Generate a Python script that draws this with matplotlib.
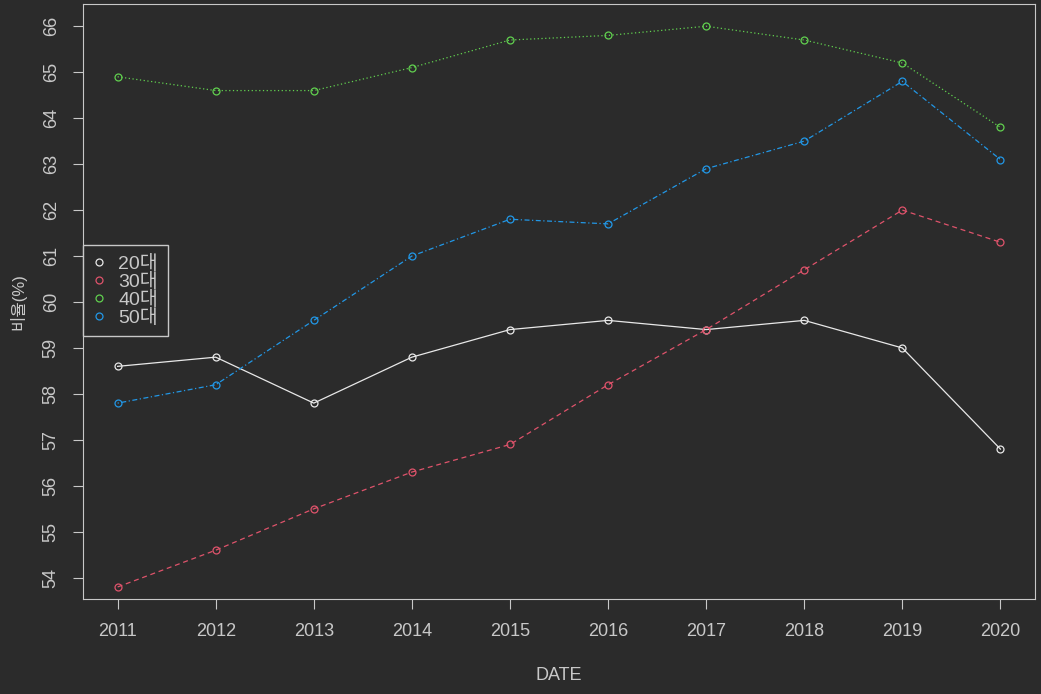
import matplotlib
matplotlib.use("Agg")
import matplotlib.pyplot as plt

plt.rcParams['font.family'] = ['Liberation Sans', 'Noto Sans CJK KR']

years = [2011, 2012, 2013, 2014, 2015, 2016, 2017, 2018, 2019, 2020]
age20 = [58.6, 58.8, 57.8, 58.8, 59.4, 59.6, 59.4, 59.6, 59.0, 56.8]
age30 = [53.8, 54.6, 55.5, 56.3, 56.9, 58.2, 59.4, 60.7, 62.0, 61.3]
age40 = [64.9, 64.6, 64.6, 65.1, 65.7, 65.8, 66.0, 65.7, 65.2, 63.8]
age50 = [57.8, 58.2, 59.6, 61.0, 61.8, 61.7, 62.9, 63.5, 64.8, 63.1]
labels = ["20대", "30대", "40대", "50대"]

bg = "#2b2b2b"
fg = "#c8c8c8"
colors = ["#e8e8e8", "#DF536B", "#61D04F", "#2297E6"]
styles = ["-", (0, (4, 3)), (0, (1, 2)), (0, (1, 2, 4, 2))]

fig = plt.figure(figsize=(10.41, 6.94), dpi=100, facecolor=bg)
ax = fig.add_axes([0.080, 0.137, 0.914, 0.857], facecolor=bg)
for s, c, ls, lab in zip([age20, age30, age40, age50], colors, styles, labels):
    ax.plot(years, s, color=c, ls=ls, lw=0.9, marker="o", ms=5,
            mfc="none", mec=c, mew=0.9, label=lab)

ax.set_xlim(2010.65, 2020.35)
ax.set_ylim(53.54, 66.48)
ax.set_xticks(years)
ax.set_yticks(range(54, 67))
ax.tick_params(colors=fg, labelsize=13, length=7, pad=10)
for lbl in ax.get_yticklabels():
    lbl.set_rotation(90)
    lbl.set_va("center")
for sp in ax.spines.values():
    sp.set_color(fg)
ax.set_xlabel("DATE", color=fg, fontsize=13, labelpad=20)
ax.set_ylabel("비율(%)", color=fg, fontsize=12, labelpad=12)

leg = ax.legend(loc="upper left", bbox_to_anchor=(0.0, 0.595), fontsize=14,
                facecolor=bg, edgecolor=fg, framealpha=1, fancybox=False,
                handlelength=0.6, handletextpad=0.7, borderpad=0.5, labelspacing=0.0,
                borderaxespad=0)
for h in leg.get_lines():
    h.set_linestyle("none")
for t in leg.get_texts():
    t.set_color(fg)

fig.savefig("out.png", dpi=100, facecolor=bg)
